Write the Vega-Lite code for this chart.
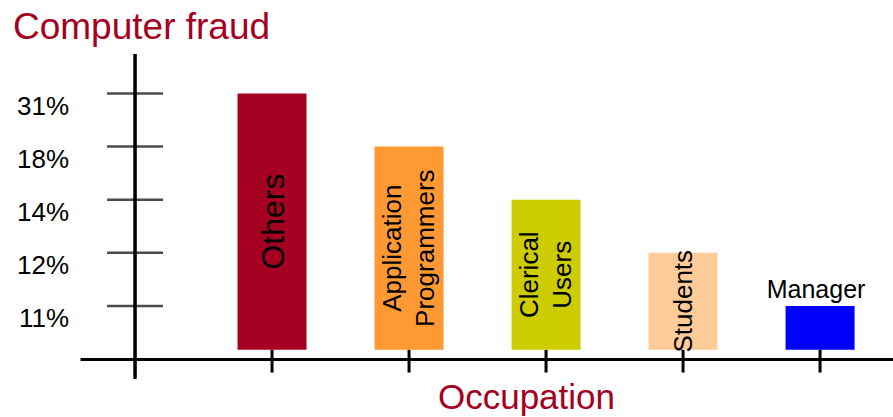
{
  "$schema": "https://vega.github.io/schema/vega-lite/v6.json",
  "width": 813,
  "height": 305,
  "autosize": {"type": "none"},
  "padding": {"left": 80, "top": 54, "right": 0, "bottom": 58},
  "background": "white",
  "config": {"view": {"stroke": null}, "font": "Liberation Sans"},
  "title": {
    "text": "Computer fraud",
    "anchor": "start",
    "frame": "group",
    "dx": -67,
    "offset": -23,
    "baseline": "alphabetic",
    "color": "#A50021",
    "fontSize": 37,
    "font": "Liberation Sans",
    "fontWeight": "normal"
  },
  "data": {
    "values": [
      {"occupation": "Others", "label": "Others", "pct": "31%", "level": 5},
      {"occupation": "Application Programmers", "label": "Application\nProgrammers", "pct": "18%", "level": 4},
      {"occupation": "Clerical Users", "label": "Clerical\nUsers", "pct": "14%", "level": 3},
      {"occupation": "Students", "label": "Students", "pct": "12%", "level": 2},
      {"occupation": "Manager", "label": "Manager", "pct": "11%", "level": 1}
    ]
  },
  "layer": [
    {
      "layer": [
        {
          "mark": {"type": "rule", "color": "black", "strokeWidth": 2.5},
          "encoding": {
            "x": {"datum": "", "type": "nominal"},
            "y": {"datum": 5.744, "type": "quantitative"},
            "y2": {"datum": -0.365}
          }
        },
        {
          "mark": {"type": "tick", "color": "black", "size": 56, "thickness": 2.5, "orient": "horizontal"},
          "encoding": {
            "x": {"datum": "", "type": "nominal"},
            "y": {"field": "level", "type": "quantitative"}
          }
        },
        {
          "mark": {"type": "text", "align": "right", "baseline": "middle", "dx": -66, "dy": 13, "fontSize": 26, "color": "black"},
          "encoding": {
            "x": {"datum": "", "type": "nominal"},
            "y": {"field": "level", "type": "quantitative"},
            "text": {"field": "pct"}
          }
        },
        {
          "mark": {"type": "rule", "color": "black", "strokeWidth": 3},
          "encoding": {
            "x": {"field": "occupation", "type": "nominal"},
            "y": {"datum": 0.175, "type": "quantitative"},
            "y2": {"datum": -0.255}
          }
        },
        {
          "mark": {"type": "bar", "width": 69},
          "encoding": {
            "x": {"field": "occupation", "type": "nominal"},
            "y": {"field": "level", "type": "quantitative"},
            "y2": {"datum": 0.175},
            "color": {
              "field": "occupation",
              "type": "nominal",
              "scale": {
                "domain": ["Others", "Application Programmers", "Clerical Users", "Students", "Manager"],
                "range": ["#A50021", "#FF9933", "#CCCC00", "#FFCC99", "#0000FF"]
              },
              "legend": null
            }
          }
        },
        {
          "transform": [{"filter": "datum.occupation === 'Manager'"}],
          "mark": {"type": "text", "align": "center", "baseline": "alphabetic", "dx": -4, "dy": -8, "fontSize": 25, "color": "black"},
          "encoding": {
            "x": {"field": "occupation", "type": "nominal"},
            "y": {"field": "level", "type": "quantitative"},
            "text": {"field": "label"}
          }
        }
      ],
      "encoding": {
        "x": {
          "scale": {
            "type": "point",
            "domain": ["", "Others", "Application Programmers", "Clerical Users", "Students", "Manager"],
            "padding": 0.467,
            "align": 0.43
          },
          "axis": {
            "title": "Occupation",
            "titleColor": "#A50021",
            "titleFontSize": 35,
            "titleFontWeight": "normal",
            "titleFont": "Liberation Sans",
            "titleX": 446,
            "titleY": 49,
            "titleBaseline": "alphabetic",
            "titleAlign": "center",
            "domainColor": "black",
            "domainWidth": 3,
            "ticks": false,
            "labels": false,
            "grid": false
          }
        },
        "y": {
          "scale": {"domain": [0, 5.744], "nice": false, "zero": false},
          "axis": null
        }
      }
    },
    {
      "layer": [
        {
          "transform": [{"filter": "datum.occupation === 'Others'"}],
          "mark": {"type": "text", "angle": 270, "align": "center", "baseline": "middle", "dy": 2, "fontSize": 32, "color": "black"},
          "encoding": {
            "x": {"field": "occupation", "type": "nominal"},
            "y": {"field": "level", "type": "quantitative"},
            "text": {"field": "label"}
          }
        },
        {
          "transform": [{"filter": "datum.occupation === 'Students'"}],
          "mark": {"type": "text", "angle": 270, "align": "center", "baseline": "middle", "dy": 1, "fontSize": 26, "color": "black"},
          "encoding": {
            "x": {"field": "occupation", "type": "nominal"},
            "y": {"field": "level", "type": "quantitative"},
            "text": {"field": "label"}
          }
        },
        {
          "transform": [{"filter": "datum.occupation === 'Application Programmers' || datum.occupation === 'Clerical Users'"}],
          "mark": {"type": "text", "angle": 270, "align": "center", "baseline": "middle", "dy": -16, "fontSize": 26, "lineBreak": "\n", "lineHeight": 33, "color": "black"},
          "encoding": {
            "x": {"field": "occupation", "type": "nominal"},
            "y": {"field": "level", "type": "quantitative"},
            "text": {"field": "label"}
          }
        }
      ],
      "encoding": {
        "y": {
          "scale": {"domain": [-0.175, 11.313], "nice": false, "zero": false},
          "axis": null
        }
      }
    }
  ],
  "resolve": {"scale": {"y": "independent"}}
}
